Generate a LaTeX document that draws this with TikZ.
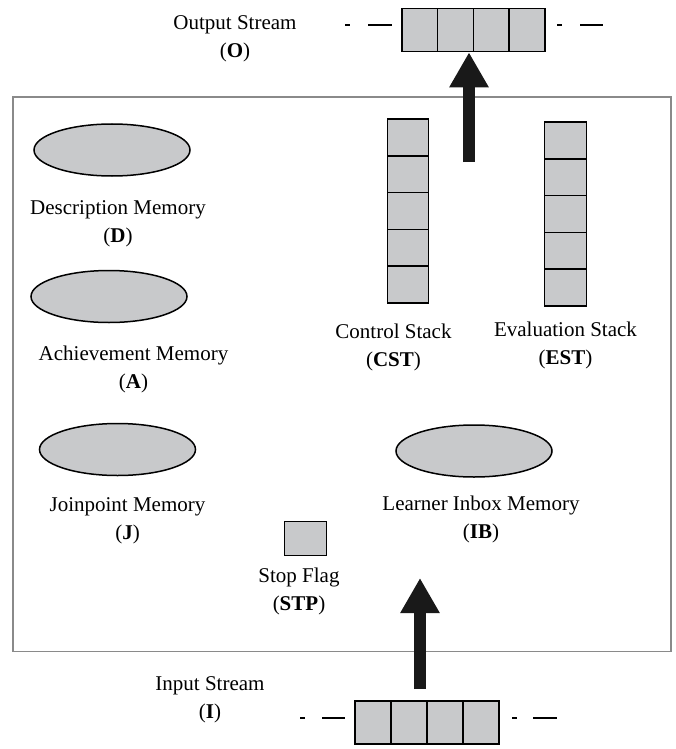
\documentclass[tikz,border=0pt]{standalone}
\usepackage{fontspec}
\setmainfont{Liberation Serif}
\usetikzlibrary{arrows.meta,shapes.geometric}
\definecolor{cellgray}{HTML}{C8C9CB}
\definecolor{framegray}{HTML}{8A8A8A}
\begin{document}
\begin{tikzpicture}[x=1pt,y=-1pt,
  lbl/.style={align=center,font=\fontsize{21}{28}\selectfont,inner sep=0pt},
  mem/.style={ellipse,draw=black,fill=cellgray,line width=1.5pt,minimum width=156pt,minimum height=52pt,inner sep=0pt},
  qcell/.style={draw=black,fill=cellgray,line width=1.6pt,minimum width=35.8pt,minimum height=43pt,inner sep=0pt},
  scell/.style={draw=black,fill=cellgray,line width=1.6pt,minimum width=41pt,minimum height=36.8pt,inner sep=0pt},
  bigarrow/.style={line width=12pt,draw=black!90,-{Triangle[width=37pt,length=35pt]}},
  dashmark/.style={line width=2pt,draw=black}]
\useasboundingbox (0,0) rectangle (675,749);

% frame
\node[draw=framegray,line width=1.5pt,minimum width=658pt,minimum height=554pt,inner sep=0pt] (frame) at (341.75,374.25) {};

% output stream
\foreach \i/\x in {1/419.6,2/455.4,3/491.2,4/527}
  \node[qcell] (ocell\i) at (\x,30) {};
\draw[dashmark] (345,25) coordinate (od1a) -- (350,25) coordinate (od1b);
\draw[dashmark] (368,25) coordinate (od2a) -- (392,25) coordinate (od2b);
\draw[dashmark] (557,25) coordinate (od3a) -- (562,25) coordinate (od3b);
\draw[dashmark] (580,25) coordinate (od4a) -- (603,25) coordinate (od4b);
\node[lbl] (olbl) at (235,38.5) {Output Stream\\(\textbf{O})};

% input stream
\foreach \i/\x in {1/373,2/409,3/445,4/481}
  \node[qcell,minimum width=36pt] (icell\i) at (\x,722.5) {};
\draw[dashmark] (300,718) coordinate (id1a) -- (305,718) coordinate (id1b);
\draw[dashmark] (322,718) coordinate (id2a) -- (345,718) coordinate (id2b);
\draw[dashmark] (512,718) coordinate (id3a) -- (517,718) coordinate (id3b);
\draw[dashmark] (533,718) coordinate (id4a) -- (557,718) coordinate (id4b);
\node[lbl] (ilbl) at (210,700) {Input Stream\\(\textbf{I})};

% memories
\node[mem] (D) at (112,150) {};
\node[lbl] (Dlbl) at (118,224) {Description Memory\\(\textbf{D})};
\node[mem] (A) at (109,296.5) {};
\node[lbl] (Albl) at (133.5,369) {Achievement Memory\\(\textbf{A})};
\node[mem] (J) at (117.5,449.5) {};
\node[lbl] (Jlbl) at (127.5,521) {Joinpoint Memory\\(\textbf{J})};
\node[mem] (IB) at (474,451) {};
\node[lbl] (IBlbl) at (481,519) {Learner Inbox Memory\\(\textbf{IB})};

% stop flag
\node[draw=black,fill=cellgray,line width=1.6pt,minimum width=42pt,minimum height=34pt,inner sep=0pt] (STP) at (305.5,538.5) {};
\node[lbl] (STPlbl) at (299,591.5) {Stop Flag\\(\textbf{STP})};

% stacks
\foreach \i/\y in {1/137.4,2/174.2,3/211,4/247.8,5/284.6}
  \node[scell] (cst\i) at (408,\y) {};
\foreach \i/\y in {1/140.4,2/177.2,3/214,4/250.8,5/287.6}
  \node[scell,minimum width=42pt] (est\i) at (565.5,\y) {};
\node[lbl] (CSTlbl) at (393.5,347) {Control Stack\\(\textbf{CST})};
\node[lbl] (ESTlbl) at (565.5,345) {Evaluation Stack\\(\textbf{EST})};

% arrows
\coordinate (otail) at (469,162);
\draw[bigarrow] (otail) -- (otail |- ocell2.south);
\coordinate (itail) at (420,689);
\coordinate (itip) at (420,578);
\draw[bigarrow] (itail) -- (itip);
\end{tikzpicture}
\end{document}
